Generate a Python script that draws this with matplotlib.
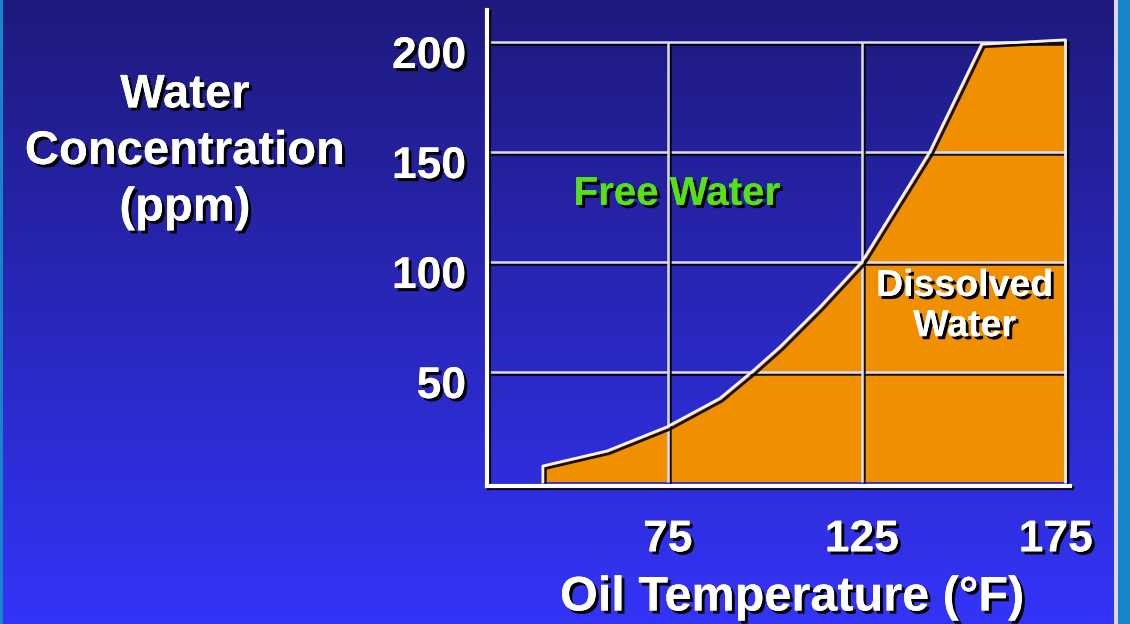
import numpy as np
import matplotlib
matplotlib.use("Agg")
import matplotlib.pyplot as plt
import matplotlib.patheffects as pe
from matplotlib.transforms import ScaledTranslation

# ---- data ----
curve_temp = [42.8, 59.3, 74.7, 88.4, 96.6, 103.9, 114.2, 125, 142.5, 155.9, 177.5]
curve_ppm = [7.3, 14.1, 25, 38, 50, 61.4, 79.5, 100, 150, 199, 201]
x_ticks = [75, 125, 175]
x_tick_labels = ["75", "125", "175"]
y_ticks = [50, 100, 150, 200]
y_tick_labels = ["50", "100", "150", "200"]
v_grid = [75, 125]
h_grid = [50, 100, 150, 200]

plt.rcParams['font.family'] = ['Liberation Sans', 'DejaVu Sans']
plt.rcParams['font.weight'] = 'bold'

W, H = 1130, 624
fig = plt.figure(figsize=(W / 100, H / 100), dpi=100)

# background gradient
bg = fig.add_axes([0, 0, 1, 1], zorder=-10)
top = np.array([30, 26, 125]) / 255
bot = np.array([52, 52, 248]) / 255
t = np.linspace(0, 1, 256)[:, None]
grad = top[None, :] * (1 - t) + bot[None, :] * t
bg.imshow(grad[:, None, :], aspect='auto', extent=[0, 1, 0, 1], origin='upper')
bg.set_xlim(0, 1); bg.set_ylim(0, 1)
bg.axis('off')
teal = (0.09, 0.52, 0.80)
bg.add_patch(plt.Rectangle((0, 0), 3 / W, 1, color=teal, lw=0))
bg.add_patch(plt.Rectangle((1118 / W, 0), 12 / W, 1, color=teal, lw=0))
bg.add_patch(plt.Rectangle((1114 / W, 0), 4 / W, 1, color=(0.85, 0.85, 0.92), lw=0))

ax = fig.add_axes([487 / W, 1 - 486 / H, 583 / W, 476 / H])
ax.set_facecolor('none')
ax.set_xlim(28.4, 28.4 + 583 / 3.88)
ax.set_ylim(-1.8, -1.8 + 476 / 2.2)

line_shadow = [pe.SimpleLineShadow(offset=(1.5, -1.5), shadow_color='black', alpha=0.9), pe.Normal()]

# dissolved water region
fx = [curve_temp[0]] + curve_temp + [curve_temp[-1]]
fy = [0] + curve_ppm + [0]
ax.fill(fx, fy, facecolor='#f09000', edgecolor='none', zorder=1)

# grid lines (drawn over the fill)
ax.hlines(h_grid, ax.get_xlim()[0], curve_temp[-1], colors='#dcdcf0', lw=1.8,
          path_effects=line_shadow, zorder=2)
ax.vlines(v_grid, 0, h_grid[-1], colors='#dcdcf0', lw=1.8, path_effects=line_shadow, zorder=2)

ax.plot(fx, fy, color='#f4f0ea', lw=2.0, zorder=3,
        path_effects=[pe.SimpleLineShadow(offset=(1.8, -1.8), shadow_color='black', alpha=0.9), pe.Normal()])

for s in ['top', 'right']:
    ax.spines[s].set_visible(False)
for s in ['left', 'bottom']:
    ax.spines[s].set_color('white')
    ax.spines[s].set_linewidth(3)
    ax.spines[s].set_path_effects(line_shadow)
ax.spines['bottom'].set_zorder(4)

txt_shadow = [pe.withSimplePatchShadow(offset=(2.2, -2.2), shadow_rgbFace='black', alpha=1.0), pe.Normal()]

ax.set_xticks(x_ticks)
ax.set_xticklabels(x_tick_labels)
ax.set_yticks(y_ticks)
ax.set_yticklabels(y_tick_labels)
ax.tick_params(axis='both', length=0, labelsize=32, labelcolor='white')
ax.tick_params(axis='x', pad=24)
ax.tick_params(axis='y', pad=15)
for lab in ax.get_xticklabels() + ax.get_yticklabels():
    lab.set_fontweight('bold')
    lab.set_path_effects(txt_shadow)
for lab in ax.get_yticklabels():
    lab.set_transform(lab.get_transform() + ScaledTranslation(0, -10 / 100, fig.dpi_scale_trans))

fig.text(185 / W, 1 - 152 / H, "Water\nConcentration\n(ppm)", ha='center', va='center',
         multialignment='center', fontsize=34, color='white', fontweight='bold',
         linespacing=1.37, path_effects=txt_shadow)
fig.text(792 / W, 1 - 598 / H, "Oil Temperature (°F)", ha='center', va='center',
         fontsize=35, color='white', fontweight='bold', path_effects=txt_shadow)

ax.text(77.3, 131, "Free Water", ha='center', va='center', fontsize=29,
        color='#55e018', fontweight='bold', path_effects=txt_shadow, zorder=5)
ax.text(151.5, 80, "Dissolved\nWater", ha='center', va='center', fontsize=27,
        color='white', fontweight='bold', linespacing=1.15, path_effects=txt_shadow, zorder=5)

fig.savefig("out.png", dpi=100)
